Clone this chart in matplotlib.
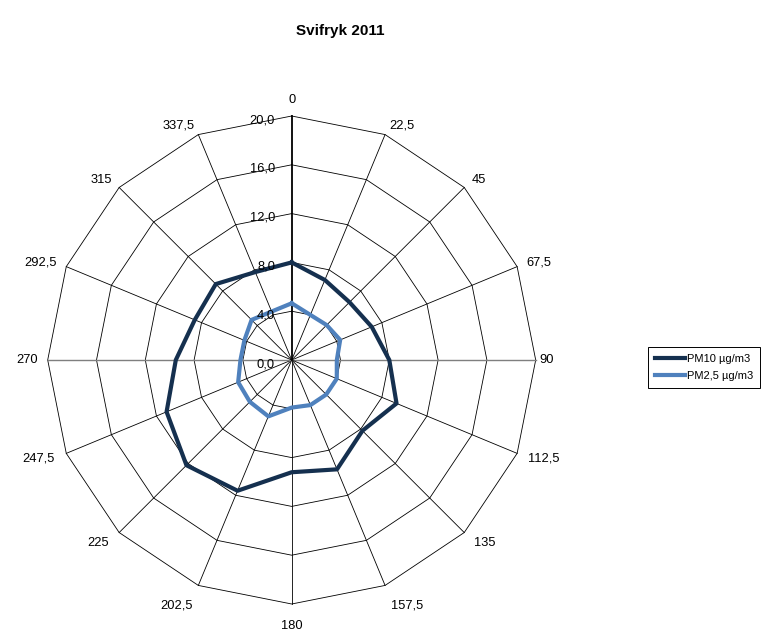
import numpy as np
import matplotlib
matplotlib.use("Agg")
import matplotlib.pyplot as plt
from matplotlib.lines import Line2D

plt.rcParams['font.family'] = ['Liberation Sans', 'DejaVu Sans']

# Wind sectors (degrees) and mean concentrations per sector
directions = [0, 22.5, 45, 67.5, 90, 112.5, 135, 157.5,
              180, 202.5, 225, 247.5, 270, 292.5, 315, 337.5]
dir_labels = ["0", "22,5", "45", "67,5", "90", "112,5", "135", "157,5",
              "180", "202,5", "225", "247,5", "270", "292,5", "315", "337,5"]
pm10 = [8.0, 7.1, 6.7, 7.1, 8.0, 9.3, 8.2, 9.7,
        9.2, 11.6, 12.2, 11.1, 9.5, 8.6, 8.8, 7.8]
pm25 = [4.65, 4.0, 4.05, 4.3, 3.7, 4.0, 4.0, 4.0,
        3.9, 5.0, 4.85, 4.75, 4.2, 4.2, 4.65, 4.3]
rings = [4, 8, 12, 16, 20]
ring_labels = ["0,0", "4,0", "8,0", "12,0", "16,0", "20,0"]
RMAX = 20

W, H = 776, 632
fig = plt.figure(figsize=(W / 100, H / 100), dpi=100)

cx, cy, R = 291.7, 360.0, 244.0
ax = fig.add_axes([(cx - R) / W, (H - cy - R) / H, 2 * R / W, 2 * R / H],
                  projection='polar')
ax.set_theta_zero_location('N')
ax.set_theta_direction(-1)
ax.set_ylim(0, RMAX)
ax.grid(False)
ax.spines['polar'].set_visible(False)
ax.set_xticks([])
ax.set_yticks([])
ax.patch.set_alpha(0)

theta = np.deg2rad(directions)
theta_c = np.append(theta, theta[0])

# polygon grid
for r in rings:
    ax.plot(theta_c, [r] * len(theta_c), color='black', lw=0.6, clip_on=False, zorder=1)
# spokes
for i, t in enumerate(theta):
    if directions[i] == 0:
        continue
    if directions[i] in (90, 270):
        ax.plot([t, t], [0, RMAX], color='#7f7f7f', lw=1.0, clip_on=False, zorder=1)
    else:
        ax.plot([t, t], [0, RMAX], color='black', lw=0.6, clip_on=False, zorder=1)
# value axis
ax.plot([0, 0], [0, RMAX], color='black', lw=1.3, clip_on=False, zorder=2)

# data series
ax.plot(theta_c, pm10 + [pm10[0]], color='#15304f', lw=3.0, clip_on=False, zorder=4)
ax.plot(theta_c, pm25 + [pm25[0]], color='#4f81bd', lw=3.0, clip_on=False, zorder=4)

# radial value labels
pt = 72 / 100
for r, lab in zip([0] + rings, ring_labels):
    ax.annotate(lab, xy=(0, r), xytext=(-12, -3), textcoords='offset points',
                ha='right', va='center', fontsize=9.3, zorder=5)

# direction labels
for t, d, lab in zip(theta, directions, dir_labels):
    s, c = np.sin(t), np.cos(t)
    off = 10 + 6 * max(0.0, -c)
    dx, dy = s * off * pt, c * off * pt
    if abs(s) < 0.1:
        ha = 'center'
    elif s > 0:
        ha = 'left'
    else:
        ha = 'right'
    if c > 0.95:
        va = 'bottom'
    elif c < -0.8:
        va = 'top'
    else:
        va = 'center'
    if d == 90:
        dx = 4 * pt
    ax.annotate(lab, xy=(t, RMAX), xytext=(dx, dy), textcoords='offset points',
                ha=ha, va=va, fontsize=9.3, annotation_clip=False)

fig.text(340 / W, 1 - 31 / H, "Svifryk 2011", ha='center', va='center',
         fontsize=11, fontweight='bold')

handles = [Line2D([], [], color='#15304f', lw=3.0),
           Line2D([], [], color='#4f81bd', lw=3.0)]
leg = fig.legend(handles, ["PM10 µg/m3", "PM2,5 µg/m3"],
                 loc='upper left', bbox_to_anchor=(648 / W, 1 - 347 / H),
                 fontsize=8, frameon=True, fancybox=False, framealpha=1,
                 edgecolor='black', handlelength=2.7, handletextpad=0.2,
                 borderpad=0.6, labelspacing=0.65, borderaxespad=0)
leg.get_frame().set_linewidth(0.7)

fig.savefig("out.png", dpi=100)
